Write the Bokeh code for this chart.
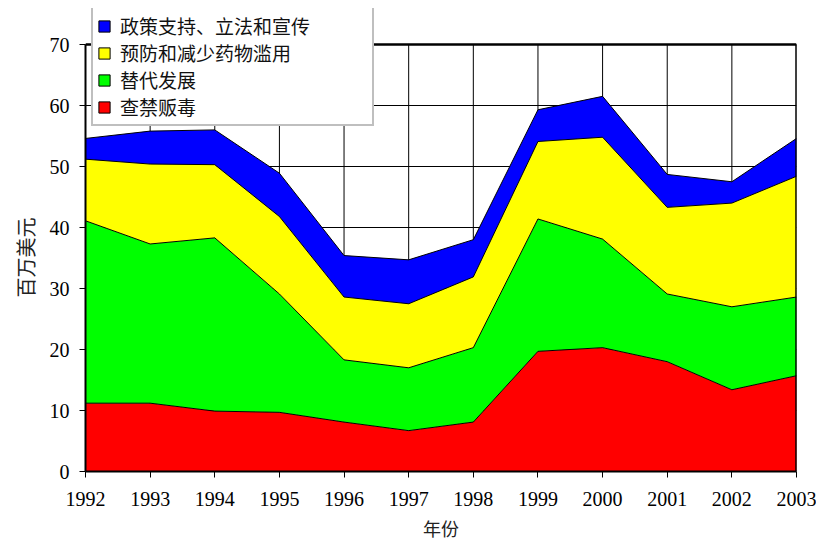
from bokeh.plotting import figure
from bokeh.models import ColumnDataSource, Legend, LegendItem, Range1d, FixedTicker, Title
from bokeh.embed import file_html
from bokeh.resources import INLINE

years = [1992, 1993, 1994, 1995, 1996, 1997, 1998, 1999, 2000, 2001, 2002, 2003]
interdiction = [11.2, 11.2, 9.9, 9.7, 8.1, 6.7, 8.1, 19.7, 20.3, 18.0, 13.4, 15.7]
alt_dev = [29.9, 26.1, 28.4, 19.4, 10.2, 10.3, 12.2, 21.7, 17.8, 11.1, 13.6, 12.9]
prevention = [10.1, 13.1, 12.0, 12.7, 10.3, 10.5, 11.6, 12.7, 16.7, 14.2, 17.0, 19.8]
policy = [3.4, 5.4, 5.7, 7.1, 6.8, 7.2, 6.1, 5.2, 6.7, 5.4, 3.5, 6.2]
y_ticks = [0, 10, 20, 30, 40, 50, 60, 70]

names = ["查禁贩毒", "替代发展", "预防和减少药物滥用", "政策支持、立法和宣传"]
keys = ["interdiction", "alt_dev", "prevention", "policy"]
colors = ["#FF0000", "#00FF00", "#FFFF00", "#0000FF"]

X_MIN, X_MAX = years[0], years[-1]
Y_MIN, Y_MAX = y_ticks[0], y_ticks[-1]

source = ColumnDataSource(dict(year=years, interdiction=interdiction, alt_dev=alt_dev,
                               prevention=prevention, policy=policy))

# frame extends above the value axis top so the legend can sit over the top border
p = figure(width=816, height=547, output_backend="svg", toolbar_location=None,
           x_range=Range1d(X_MIN, X_MAX), y_range=Range1d(Y_MIN, Y_MAX * 463 / 427),
           min_border_left=85, min_border_right=20, min_border_top=8, min_border_bottom=76)

# vertical grid lines, limited to the value range
vg = p.segment(x0=years, y0=[Y_MIN] * len(years), x1=years, y1=[Y_MAX] * len(years),
               line_color="black", line_width=1)
vg.level = "underlay"

# legend swatches: degenerate (zero-size) outlined quads at the origin, only for the legend
swatches = []
for c in colors:
    q = p.quad(left=[X_MIN], right=[X_MIN], top=[Y_MIN], bottom=[Y_MIN], fill_color=c,
               line_color="black", line_width=1)
    q.level = "underlay"
    swatches.append(q)

areas = p.varea_stack(keys, x="year", color=colors, source=source)
p.vline_stack(keys, x="year", color="black", line_width=1, source=source)

# top and right borders of the plot box
p.segment(x0=[X_MIN, X_MAX], y0=[Y_MAX, Y_MIN], x1=[X_MAX, X_MAX], y1=[Y_MAX, Y_MAX],
          line_color="black", line_width=2.5)

items = [LegendItem(label=names[i], renderers=[swatches[i]]) for i in [3, 2, 1, 0]]
legend = Legend(items=items, location=(6, 345))
legend.label_text_font = "Noto Sans CJK SC"
legend.label_text_font_size = "19px"
legend.label_text_color = "#111111"
legend.glyph_width = 14
legend.glyph_height = 14
legend.label_height = 18
legend.label_width = 248
legend.spacing = 0
legend.padding = 4
legend.margin = 0
legend.label_standoff = 9
legend.border_line_color = "#808080"
legend.border_line_width = 2
legend.background_fill_alpha = 1
p.add_layout(legend, "center")

p.xaxis.ticker = FixedTicker(ticks=years)
p.yaxis.ticker = FixedTicker(ticks=y_ticks)
p.yaxis.bounds = (Y_MIN, Y_MAX)
for ax in (p.xaxis[0], p.yaxis[0]):
    ax.major_label_text_font = "Liberation Serif"
    ax.major_label_text_font_size = "20px"
    ax.major_label_text_color = "black"
    ax.axis_line_color = "black"
    ax.axis_line_width = 2
    ax.major_tick_line_color = "black"
    ax.major_tick_line_width = 1
    ax.major_tick_out = 6
    ax.major_tick_in = 0
    ax.minor_tick_line_color = None

p.xaxis.axis_label = "年份"
p.xaxis.axis_label_text_font = "Noto Sans CJK SC"
p.xaxis.axis_label_text_font_style = "normal"
p.xaxis.axis_label_text_color = "#222222"
p.xaxis.axis_label_text_font_size = "18px"
p.xaxis.major_label_standoff = 14
p.xaxis.axis_label_standoff = 6
p.yaxis.major_label_standoff = 10

# value-axis caption, centred on the 0-70 scale rather than on the extended frame
ytitle = Title(text="百万美元", align="left", offset=174, standoff=14,
               text_font="Noto Sans CJK SC", text_font_size="20px",
               text_font_style="normal", text_color="#222222")
p.add_layout(ytitle, "left")

p.xgrid.grid_line_color = None
p.ygrid.grid_line_color = "black"
p.ygrid.grid_line_width = 1
p.outline_line_color = None
p.background_fill_color = "white"
p.border_fill_color = "white"

open("out.html", "w").write(file_html(p, INLINE))
